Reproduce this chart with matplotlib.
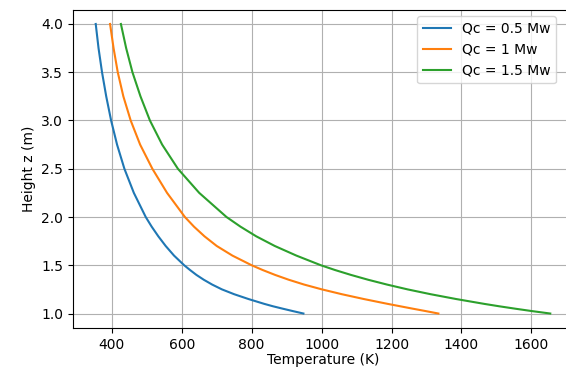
import matplotlib
matplotlib.use("Agg")
import matplotlib.pyplot as plt

# values (height z in m, temperature in K)
z_pts = [4.0, 3.75, 3.5, 3.25, 3.0, 2.75, 2.5, 2.25, 2.0, 1.9, 1.8, 1.7, 1.6,
         1.5, 1.45, 1.4, 1.35, 1.3, 1.25, 1.2, 1.15, 1.1, 1.075, 1.05, 1.025, 1.0]

T_05 = [354, 362, 372, 384, 398, 415, 436, 463, 497, 514, 533, 554, 578,
        607, 624, 642, 663, 687, 715, 750, 791, 836, 861, 889, 918, 948]
T_10 = [395, 405, 417, 433, 454, 481, 516, 558, 609, 635, 665, 700, 745,
        800, 832, 867, 906, 950, 1001, 1058, 1121, 1189, 1225, 1261, 1298, 1334]
T_15 = [426, 441, 459, 482, 509, 544, 589, 650, 728, 768, 813, 866, 928,
        998, 1039, 1084, 1133, 1187, 1246, 1312, 1385, 1465, 1508, 1554, 1602, 1654]

labels = ["Qc = 0.5 Mw", "Qc = 1 Mw", "Qc = 1.5 Mw"]
xticks = [400, 600, 800, 1000, 1200, 1400, 1600]
yticks = [1.0, 1.5, 2.0, 2.5, 3.0, 3.5, 4.0]

W, H = 566, 373
fig = plt.figure(figsize=(W / 100, H / 100), dpi=100)
# right spine sits just past the image edge, as in the cropped screenshot
ax = fig.add_axes([73 / W, 45 / H, 500 / W, 318.5 / H])

for T, lab in zip([T_05, T_10, T_15], labels):
    ax.plot(T, z_pts, label=lab)

ax.set_xticks(xticks)
ax.set_yticks(yticks)
ax.tick_params(labelsize=10)
ax.set_xlabel("Temperature (K)", fontsize=10, labelpad=1)
ax.set_ylabel("Height z (m)", fontsize=10)
ax.grid(True)
ax.legend(loc="upper right", fontsize=10, bbox_to_anchor=(0.98, 1.0))

fig.savefig("out.png", dpi=100)
